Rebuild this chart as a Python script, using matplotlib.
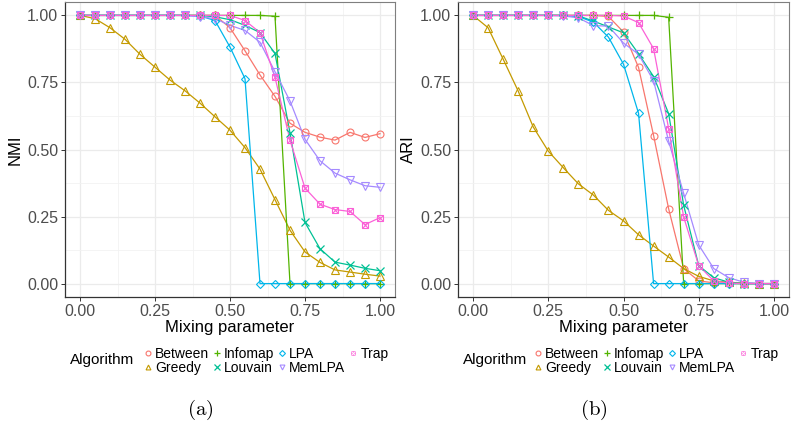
import matplotlib
matplotlib.use("Agg")
import matplotlib.pyplot as plt
from matplotlib.lines import Line2D

plt.rcParams['font.family'] = ['Liberation Sans', 'DejaVu Sans']
plt.rcParams['mathtext.fontset'] = 'cm'

# Mixing parameter values
mixing = [0.00, 0.05, 0.10, 0.15, 0.20, 0.25, 0.30, 0.35, 0.40, 0.45, 0.50,
          0.55, 0.60, 0.65, 0.70, 0.75, 0.80, 0.85, 0.90, 0.95, 1.00]

algorithms = ["Between", "Greedy", "Infomap", "Louvain", "LPA", "MemLPA", "Trap"]
colors = ["#F8766D", "#C49A00", "#53B400", "#00C094", "#00B6EB", "#A58AFF", "#FB61D7"]
markers = ["o", "^", "+", "x", "D", "v", "s"]

# NMI (panel a)
nmi_between = [1.0, 1.0, 1.0, 1.0, 1.0, 1.0, 1.0, 1.0, 1.0, 1.0, 0.954,
               0.868, 0.778, 0.698, 0.598, 0.564, 0.546, 0.535, 0.564, 0.545, 0.559]
nmi_greedy = [1.0, 0.988, 0.954, 0.911, 0.855, 0.807, 0.759, 0.719, 0.673, 0.622, 0.572,
              0.507, 0.427, 0.313, 0.199, 0.118, 0.079, 0.051, 0.043, 0.035, 0.028]
nmi_infomap = [1.0, 1.0, 1.0, 1.0, 1.0, 1.0, 1.0, 1.0, 1.0, 1.0, 1.0,
               1.0, 1.0, 0.997, 0.0, 0.0, 0.0, 0.0, 0.0, 0.0, 0.0]
nmi_louvain = [1.0, 1.0, 1.0, 1.0, 1.0, 1.0, 1.0, 1.0, 1.0, 0.995, 0.984,
               0.963, 0.936, 0.858, 0.562, 0.228, 0.130, 0.080, 0.069, 0.057, 0.048]
nmi_lpa = [1.0, 1.0, 1.0, 1.0, 1.0, 1.0, 1.0, 1.0, 0.998, 0.981, 0.882,
           0.764, 0.0, 0.0, 0.0, 0.0, 0.0, 0.0, 0.0, 0.0, 0.0]
nmi_memlpa = [1.0, 1.0, 1.0, 1.0, 1.0, 1.0, 1.0, 1.0, 0.995, 0.988, 0.963,
              0.944, 0.900, 0.790, 0.681, 0.538, 0.458, 0.412, 0.387, 0.365, 0.359]
nmi_trap = [1.0, 1.0, 1.0, 1.0, 1.0, 1.0, 1.0, 1.0, 1.0, 1.0, 1.0,
            0.981, 0.936, 0.769, 0.535, 0.356, 0.296, 0.276, 0.269, 0.220, 0.246]

# ARI (panel b)
ari_between = [1.0, 1.0, 1.0, 1.0, 1.0, 1.0, 1.0, 1.0, 1.0, 0.996, 0.938,
               0.806, 0.552, 0.279, 0.056, 0.010, 0.003, 0.001, 0.0, 0.0, 0.0]
ari_greedy = [1.0, 0.954, 0.837, 0.718, 0.584, 0.494, 0.432, 0.372, 0.330, 0.273, 0.234,
              0.182, 0.140, 0.099, 0.056, 0.027, 0.010, 0.005, 0.002, 0.0, 0.0]
ari_infomap = [1.0, 1.0, 1.0, 1.0, 1.0, 1.0, 1.0, 1.0, 1.0, 1.0, 1.0,
               1.0, 1.0, 0.993, 0.0, 0.0, 0.0, 0.0, 0.0, 0.0, 0.0]
ari_louvain = [1.0, 1.0, 1.0, 1.0, 1.0, 1.0, 1.0, 0.998, 0.979, 0.957, 0.935,
               0.857, 0.772, 0.634, 0.292, 0.067, 0.022, 0.005, 0.0, 0.0, 0.0]
ari_lpa = [1.0, 1.0, 1.0, 1.0, 1.0, 1.0, 1.0, 0.996, 0.975, 0.919, 0.818,
           0.635, 0.0, 0.0, 0.0, 0.0, 0.0, 0.0, 0.0, 0.0, 0.0]
ari_memlpa = [1.0, 1.0, 1.0, 1.0, 1.0, 1.0, 0.998, 0.991, 0.962, 0.960, 0.897,
              0.855, 0.756, 0.531, 0.336, 0.144, 0.056, 0.022, 0.005, 0.0, 0.0]
ari_trap = [1.0, 1.0, 1.0, 1.0, 1.0, 1.0, 1.0, 1.0, 1.0, 1.0, 0.998,
            0.973, 0.876, 0.578, 0.248, 0.067, 0.010, 0.002, 0.0, 0.0, 0.0]

nmi = [nmi_between, nmi_greedy, nmi_infomap, nmi_louvain, nmi_lpa, nmi_memlpa, nmi_trap]
ari = [ari_between, ari_greedy, ari_infomap, ari_louvain, ari_lpa, ari_memlpa, ari_trap]

ticks = [0.00, 0.25, 0.50, 0.75, 1.00]
tick_labels = ["0.00", "0.25", "0.50", "0.75", "1.00"]
minor_ticks = [0.125, 0.375, 0.625, 0.875]

fig = plt.figure(figsize=(7.92, 4.32), dpi=100)


def draw_panel(ax, series, ylabel):
    for name, vals, c, m in zip(algorithms, series, colors, markers):
        ax.plot(mixing, vals, color=c, lw=0.9, zorder=3)
        if m == "s":
            # square with a cross inside (ggplot shape 7)
            ax.plot(mixing, vals, ls="none", marker="s", ms=5, mfc="none",
                    mec=c, mew=0.8, zorder=4)
            ax.plot(mixing, vals, ls="none", marker="x", ms=4, mec=c,
                    mew=0.8, zorder=4)
        elif m in ("+", "x"):
            ax.plot(mixing, vals, ls="none", marker=m, ms=5.5, mec=c, mew=0.9, zorder=4)
        else:
            ms = {"o": 5, "D": 4.5}.get(m, 5.5)
            ax.plot(mixing, vals, ls="none", marker=m, ms=ms, mfc="none",
                    mec=c, mew=0.8, zorder=4)
    ax.set_xlim(-0.05, 1.05)
    ax.set_ylim(-0.05, 1.05)
    ax.set_xticks(ticks)
    ax.set_xticklabels(tick_labels)
    ax.set_yticks(ticks)
    ax.set_yticklabels(tick_labels)
    ax.set_xticks(minor_ticks, minor=True)
    ax.set_yticks(minor_ticks, minor=True)
    ax.grid(which="major", color="#EBEBEB", lw=0.9, zorder=0)
    ax.grid(which="minor", color="#F2F2F2", lw=0.6, zorder=0)
    ax.tick_params(which="major", length=3, width=0.7, color="#333333",
                   labelsize=11.5, labelcolor="#4D4D4D", pad=2)
    ax.tick_params(which="minor", length=0)
    for side in ["top", "right"]:
        ax.spines[side].set_color("#7F7F7F")
        ax.spines[side].set_linewidth(0.8)
    for side in ["left", "bottom"]:
        ax.spines[side].set_color("#333333")
        ax.spines[side].set_linewidth(0.9)
    ax.set_xlabel("Mixing parameter", fontsize=12, labelpad=1)
    ax.set_ylabel(ylabel, fontsize=12, labelpad=3)
    ax.set_axisbelow(True)


ax1 = fig.add_axes([65 / 792, 1 - 297 / 432, 330 / 792, 295 / 432])
ax2 = fig.add_axes([458 / 792, 1 - 297 / 432, 331 / 792, 295 / 432])
draw_panel(ax1, nmi, "NMI")
draw_panel(ax2, ari, "ARI")

# legend handles
handles = []
for c, m in zip(colors, markers):
    if m == "s":
        h = (Line2D([], [], ls="none", marker="s", ms=3.5, mfc=c, mec=c, mew=0.6, alpha=0.75),
             Line2D([], [], ls="none", marker="x", ms=2.8, mec="white", mew=0.6))
    elif m in ("+", "x"):
        h = Line2D([], [], ls="none", marker=m, ms=4, mec=c, mew=0.9)
    else:
        h = Line2D([], [], ls="none", marker=m, ms=3.5 if m != "D" else 3,
                   mfc="none", mec=c, mew=0.8)
    handles.append(h)

for x0, lab_x in [(144, 70), (534, 463)]:
    fig.text(lab_x / 792, 1 - 360 / 432, "Algorithm", fontsize=11, va="center", ha="left")
    fig.legend(handles, algorithms, loc="center left",
               bbox_to_anchor=(x0 / 792, 1 - 361 / 432), ncol=4, frameon=False,
               fontsize=10, handlelength=0.6, handletextpad=0.2,
               columnspacing=0.27, labelspacing=0.0, borderpad=0,
               borderaxespad=0)

fig.text(200 / 792, 1 - 410 / 432, r"$\mathrm{(a)}$", fontsize=15, ha="center", va="center")
fig.text(594 / 792, 1 - 410 / 432, r"$\mathrm{(b)}$", fontsize=15, ha="center", va="center")

fig.savefig("out.png", dpi=100, facecolor="white")
